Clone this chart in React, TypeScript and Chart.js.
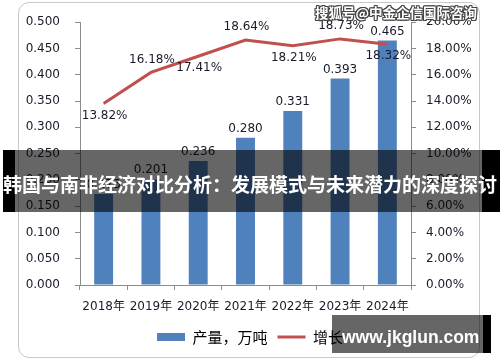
import React, { useEffect, useRef } from "react";
import { Chart, registerables } from "chart.js";

Chart.register(...registerables);

const years = ["2018年", "2019年", "2020年", "2021年", "2022年", "2023年", "2024年"];
const output = [0.173, 0.201, 0.236, 0.28, 0.331, 0.393, 0.465];
const growth = [13.82, 16.18, 17.41, 18.64, 18.21, 18.73, 18.32];
const growthLabelSide = ["below", "above", "below", "above", "below", "above", "below"];
const legendNames = ["产量，万吨", "增长"];

const BLUE = "#4f81bd";
const RED = "#c0504d";
const TEXT = "#1a1a2a";
const AXIS = "#8c8c8c";
const TICK_FONT = { family: "'DejaVu Sans', 'Noto Sans CJK SC'", size: 12 };

const labelPlugin = {
  id: "valueLabels",
  afterDatasetsDraw(chart: any) {
    const ctx = chart.ctx;
    ctx.save();
    ctx.font = "12px 'DejaVu Sans'";
    ctx.fillStyle = TEXT;
    ctx.textAlign = "center";
    ctx.textBaseline = "middle";
    const barMeta = chart.getDatasetMeta(0);
    barMeta.data.forEach((el: any, i: number) => {
      ctx.fillText(output[i].toFixed(3), el.x, el.y - 9);
    });
    const lineMeta = chart.getDatasetMeta(1);
    lineMeta.data.forEach((el: any, i: number) => {
      const dy = growthLabelSide[i] === "above" ? -13 : 12;
      ctx.fillText(growth[i].toFixed(2) + "%", el.x + 1, el.y + dy);
    });
    ctx.restore();
  },
};

export default function App() {
  const ref = useRef<HTMLCanvasElement | null>(null);

  useEffect(() => {
    if (!ref.current) return;
    const chart = new Chart(ref.current, {
      type: "bar",
      data: {
        labels: years,
        datasets: [
          {
            type: "bar",
            label: legendNames[0],
            data: output,
            yAxisID: "y",
            backgroundColor: BLUE,
            barPercentage: 0.4,
            categoryPercentage: 1,
            order: 1,
          } as any,
          {
            type: "line",
            label: legendNames[1],
            data: growth,
            yAxisID: "y1",
            borderColor: RED,
            backgroundColor: RED,
            borderWidth: 3,
            pointRadius: 0,
            tension: 0,
            order: 0,
          } as any,
        ],
      },
      options: {
        animation: false,
        responsive: false,
        maintainAspectRatio: false,
        layout: { padding: { top: 18, bottom: 7.5, left: 0, right: 0 } },
        plugins: {
          tooltip: { enabled: false },
          legend: {
            position: "bottom",
            labels: {
              usePointStyle: true,
              pointStyleWidth: 28,
              boxHeight: 8,
              padding: 10,
              color: "#1a1a1a",
              font: { family: "'Noto Sans CJK SC'", size: 15 },
              generateLabels: () => [
                {
                  text: legendNames[0],
                  fillStyle: BLUE,
                  strokeStyle: BLUE,
                  lineWidth: 0,
                  pointStyle: "rect",
                  hidden: false,
                  datasetIndex: 0,
                },
                {
                  text: legendNames[1],
                  fillStyle: RED,
                  strokeStyle: RED,
                  lineWidth: 3,
                  pointStyle: "line",
                  hidden: false,
                  datasetIndex: 1,
                },
              ],
            } as any,
          },
        },
        scales: {
          x: {
            offset: true,
            grid: { display: true, drawOnChartArea: false, tickLength: 5, color: AXIS, offset: true },
            border: { color: AXIS },
            ticks: { font: TICK_FONT, color: TEXT, padding: 10, maxRotation: 0 },
            afterFit: (s: any) => {
              s.height = 34.5;
            },
          },
          y: {
            position: "left",
            min: 0,
            max: 0.5,
            grid: { drawOnChartArea: false, tickLength: 5, color: AXIS },
            border: { color: AXIS },
            ticks: {
              stepSize: 0.05,
              font: TICK_FONT,
              color: TEXT,
              padding: 15,
              callback: (v: any) => Number(v).toFixed(3),
            },
            afterFit: (s: any) => {
              s.width = 80;
            },
          },
          y1: {
            position: "right",
            min: 0,
            max: 20,
            grid: { drawOnChartArea: false, tickLength: 5, color: AXIS },
            border: { color: AXIS },
            ticks: {
              stepSize: 2,
              font: TICK_FONT,
              color: TEXT,
              padding: 10,
              callback: (v: any) => Number(v).toFixed(2) + "%",
            },
            afterFit: (s: any) => {
              s.width = 89;
            },
          },
        },
      } as any,
      plugins: [labelPlugin],
    });
    return () => chart.destroy();
  }, []);

  const abs = (o: React.CSSProperties): React.CSSProperties => ({ position: "absolute", ...o });

  return (
    <div style={{ position: "fixed", left: 0, top: 0, width: 500, height: 362, background: "#fff", overflow: "hidden" }}>
      <div
        style={abs({
          left: 18,
          top: 2,
          width: 462,
          height: 356,
          boxSizing: "border-box",
          border: "1.5px solid #c8c8c8",
          borderRadius: 11,
        })}
      />
      <canvas ref={ref} width={500} height={362} style={abs({ left: 0, top: 0, width: 500, height: 362 })} />
      {/* watermark */}
      <div
        style={abs({
          left: 315,
          top: 3,
          fontFamily: "'Noto Sans CJK SC'",
          fontWeight: 700,
          fontSize: 13.5,
          lineHeight: "18px",
          color: "#fff",
          whiteSpace: "nowrap",
          textShadow:
            "1px 0 0 #444, -1px 0 0 #444, 0 1px 0 #444, 0 -1px 0 #444, 1px 1px 0 #444, -1px -1px 0 #444, 1px -1px 0 #444, -1px 1px 0 #444",
        })}
      >
        搜狐号@中金企信国际咨询
      </div>
      {/* banner */}
      <div style={abs({ left: 3, top: 150, width: 12, height: 62, background: "#000" })} />
      <div style={abs({ left: 15, top: 150, width: 467, height: 62, background: "rgba(0,0,0,0.6)" })} />
      <div style={abs({ left: 482, top: 150, width: 18, height: 62, background: "#000" })} />
      <div
        style={abs({
          left: 3,
          top: 173.5,
          width: 497,
          height: 19,
          lineHeight: "19px",
          fontFamily: "'Noto Sans CJK SC'",
          fontWeight: 700,
          fontSize: 19,
          color: "#fff",
          whiteSpace: "nowrap",
        })}
      >
        韩国与南非经济对比分析：发展模式与未来潜力的深度探讨
      </div>
      {/* bottom-right site box */}
      <div style={abs({ left: 332, top: 315, width: 151, height: 38, background: "rgba(0,0,0,0.6)" })} />
      <div style={abs({ left: 483, top: 315, width: 8, height: 38, background: "#000" })} />
      <div
        style={abs({
          left: 342,
          top: 325,
          height: 24,
          lineHeight: "24px",
          fontFamily: "'Liberation Sans'",
          fontWeight: 700,
          fontSize: 17.5,
          color: "#fff",
          whiteSpace: "nowrap",
        })}
      >
        www.jkglun.com
      </div>
    </div>
  );
}
